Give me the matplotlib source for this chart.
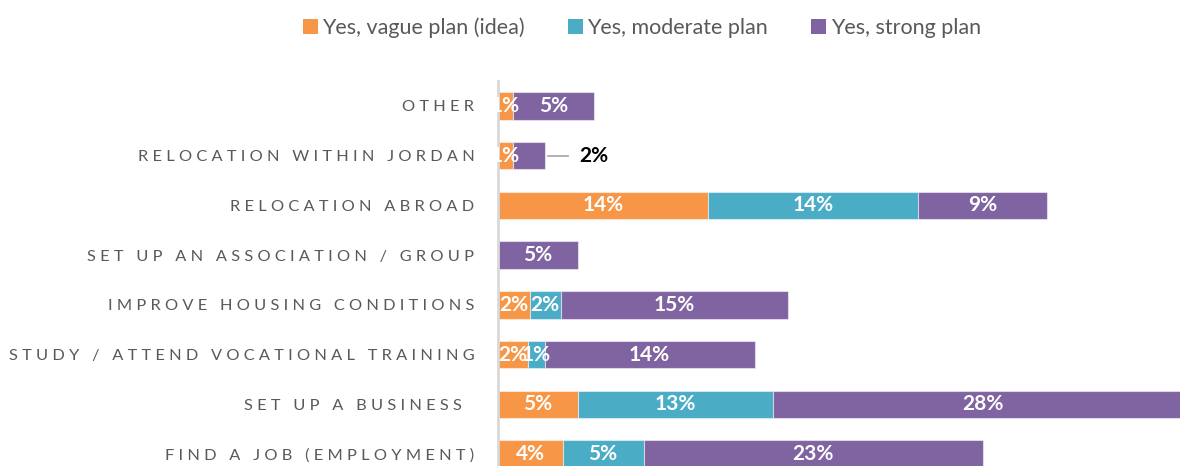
import matplotlib
matplotlib.use("Agg")
import matplotlib.pyplot as plt
from matplotlib.patches import Patch
import numpy as np

categories = ["OTHER", "RELOCATION WITHIN JORDAN", "RELOCATION ABROAD",
              "SET UP AN ASSOCIATION / GROUP", "IMPROVE HOUSING CONDITIONS",
              "STUDY / ATTEND VOCATIONAL TRAINING", "SET UP A BUSINESS ",
              "FIND A JOB (EMPLOYMENT)"]
series_names = ["Yes, vague plan (idea)", "Yes, moderate plan", "Yes, strong plan"]
vague = [1.0, 1.0, 14.0, 0.0, 2.1, 2.0, 5.3, 4.3]
moderate = [0.0, 0.0, 14.0, 0.0, 2.1, 1.1, 13.0, 5.4]
strong = [5.4, 2.1, 8.6, 5.3, 15.1, 14.0, 28.0, 22.6]
outside_label_rows = [1]  # rows whose strong label sits outside with a leader line

colors = ["#F79646", "#4BACC6", "#8064A2"]
font = "Lato"
plt.rcParams['font.family'] = [font, 'DejaVu Sans']


def spaced(s):
    words = s.split(" ")
    return "   ".join(" ".join(list(w)) for w in words)


fig = plt.figure(figsize=(11.8, 4.66), dpi=100)
ax = fig.add_axes([498 / 1180, (466 - 479) / 466, 682 / 1180, 398 / 466])

y = np.arange(len(categories))
left = np.zeros(len(categories))
for vals, col, name in zip([vague, moderate, strong], colors, series_names):
    vals = np.array(vals)
    bars = ax.barh(y, vals, left=left, height=0.55, color=col,
                   edgecolor=(1, 1, 1, 0.5), linewidth=0.8, label=name)
    for i, (b, v) in enumerate(zip(bars, vals)):
        if v <= 0:
            continue
        if col == colors[2] and i in outside_label_rows:
            end = left[i] + v
            ax.plot([end + 0.2, end + 1.55], [i, i], color="#A6A6A6", lw=1.2)
            ax.text(end + 2.35, i, f"{v:.0f}%", ha="left", va="center",
                    fontsize=15, fontweight="bold", color="black")
            continue
        ax.text(left[i] + v / 2, i, f"{v:.0f}%", ha="center", va="center",
                fontsize=15, fontweight="bold", color="white")
    left = left + vals

ax.set_xlim(0, 682 / 15.0)
ax.set_ylim(7.5, -0.5)
ax.set_yticks(y)
ax.set_yticklabels([spaced(c) for c in categories], fontsize=11.8, color="#595959")
ax.tick_params(axis="y", length=0, pad=17)
ax.set_xticks([])
for s in ["top", "right", "bottom"]:
    ax.spines[s].set_visible(False)
ax.spines["left"].set_color("#D9D9D9")
ax.spines["left"].set_linewidth(2)

handles = [Patch(facecolor=c, edgecolor="none") for c in colors]
fig.legend(handles, series_names, loc="center", bbox_to_anchor=(0.544, 0.94),
           ncol=3, frameon=False, fontsize=15.5, handlelength=0.7, handleheight=0.7,
           handletextpad=0.2, columnspacing=2.0, labelcolor="#595959")

fig.savefig("out.png", dpi=100)
